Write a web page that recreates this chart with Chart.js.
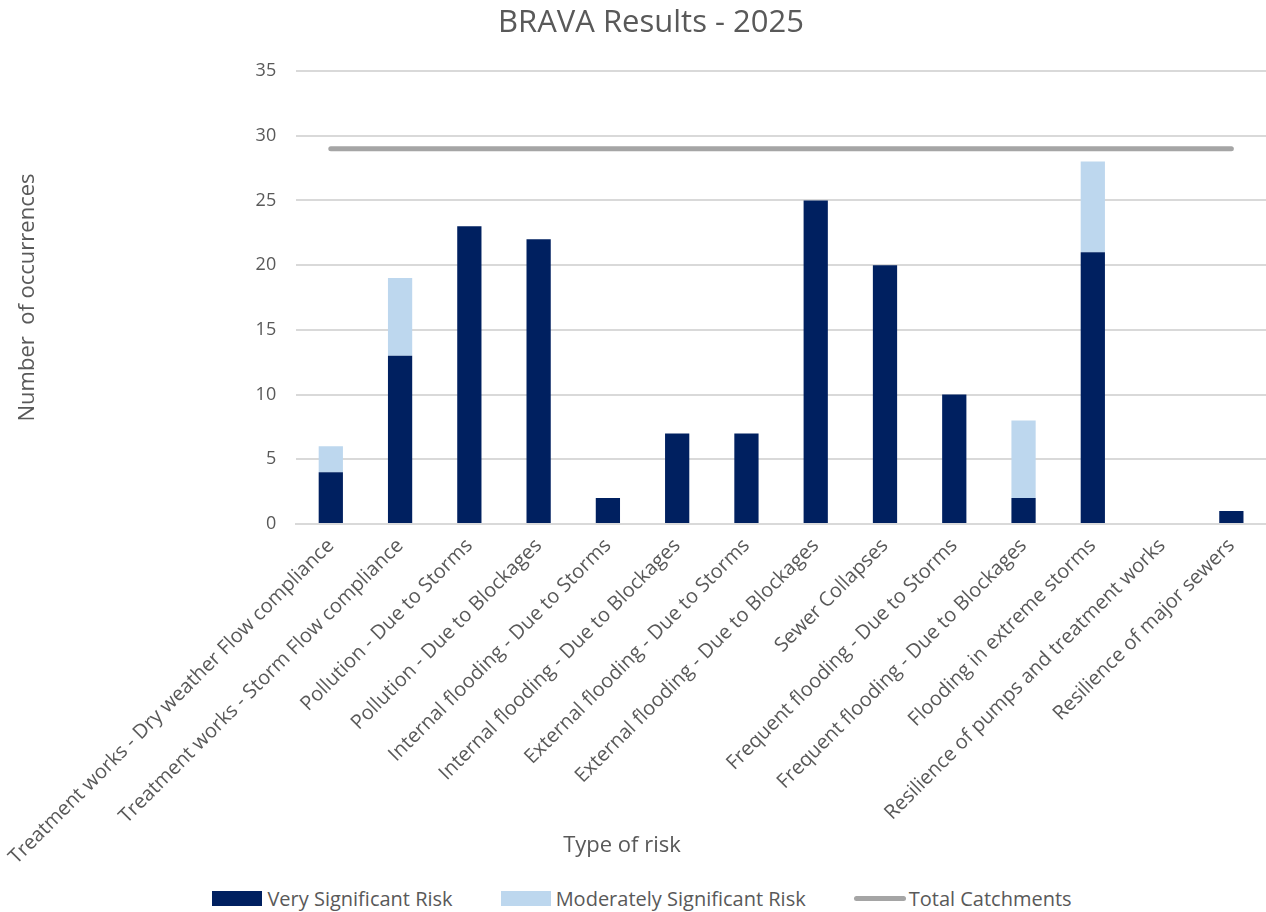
<!DOCTYPE html>
<html>
<head>
<meta charset="utf-8">
<script src="https://cdn.jsdelivr.net/npm/chart.js@4.4.1/dist/chart.umd.min.js"></script>
<style>
  html, body { margin: 0; padding: 0; background: #fff; }
  #wrap { position: relative; width: 1266px; height: 878px; }
  #legend {
    display: flex; justify-content: center; align-items: center;
    height: 40px; width: 1248px; padding-left: 18px;
    font-family: "Open Sans", sans-serif; font-size: 20px; color: #595959;
  }
  #legend .item { display: flex; align-items: center; margin: 0 24px; }
  #legend .swatch { width: 50px; height: 15px; margin-right: 5px; }
  #legend .line { width: 52px; height: 5px; border-radius: 3px; margin-right: 3px; }
</style>
</head>
<body>
<div id="wrap"><canvas id="brava"></canvas></div>
<div id="legend"></div>
<script>
const categories = [
  'Treatment works - Dry weather Flow compliance',
  'Treatment works - Storm Flow compliance',
  'Pollution - Due to Storms',
  'Pollution - Due to Blockages',
  'Internal flooding - Due to Storms',
  'Internal flooding - Due to Blockages',
  'External flooding - Due to Storms',
  'External flooding - Due to Blockages',
  'Sewer Collapses',
  'Frequent flooding - Due to Storms',
  'Frequent flooding - Due to Blockages',
  'Flooding in extreme storms',
  'Resilience of pumps and treatment works',
  'Resilience of major sewers'
];
const verySignificant = [4, 13, 23, 22, 2, 7, 7, 25, 20, 10, 2, 21, 0, 1];
const moderatelySignificant = [2, 6, 0, 0, 0, 0, 0, 0, 0, 0, 6, 7, 0, 0];
const totalCatchments = [29, 29, 29, 29, 29, 29, 29, 29, 29, 29, 29, 29, 29, 29];

const textColor = '#595959';
const fontFamily = '"Open Sans", sans-serif';

// chart title and x axis title, Excel centres them on the whole chart, not the plot
const titlesPlugin = {
  id: 'titles',
  afterDraw(chart) {
    const c = chart.ctx;
    c.save();
    c.fillStyle = textColor;
    c.textAlign = 'center';
    c.textBaseline = 'middle';
    c.font = `31px ${fontFamily}`;
    c.fillText('BRAVA Results - 2025', 651, 23);
    c.font = `22px ${fontFamily}`;
    c.fillText('Type of risk', 622, 846);
    c.restore();
  }
};

const ctx = document.getElementById('brava').getContext('2d');

const chart = new Chart(ctx, {
  data: {
    labels: categories,
    datasets: [
      {
        type: 'line',
        label: 'Total Catchments',
        data: totalCatchments,
        borderColor: '#a5a5a5',
        borderWidth: 5,
        borderCapStyle: 'round',
        pointRadius: 0,
        fill: false,
        stack: 'total',
        order: 0
      },
      {
        type: 'bar',
        label: 'Very Significant Risk',
        data: verySignificant,
        backgroundColor: '#002060',
        stack: 'risk',
        barPercentage: 0.35,
        categoryPercentage: 1,
        order: 1
      },
      {
        type: 'bar',
        label: 'Moderately Significant Risk',
        data: moderatelySignificant,
        backgroundColor: '#bdd7ee',
        stack: 'risk',
        barPercentage: 0.35,
        categoryPercentage: 1,
        order: 1
      }
    ]
  },
  options: {
    responsive: true,
    maintainAspectRatio: false,
    animation: false,
    layout: { padding: { left: 12, right: 0, top: 71, bottom: 0 } },
    scales: {
      x: {
        stacked: true,
        grid: { display: false },
        border: { color: '#d9d9d9', width: 2 },
        ticks: {
          color: textColor,
          font: { family: fontFamily, size: 20 },
          minRotation: 45,
          maxRotation: 45,
          autoSkip: false,
          padding: 2
        },
        afterFit: (scale) => { scale.height = 354; }
      },
      y: {
        stacked: true,
        min: 0,
        max: 35,
        ticks: {
          stepSize: 5,
          color: textColor,
          font: { family: fontFamily, size: 18 },
          padding: 20
        },
        grid: { color: '#d9d9d9', lineWidth: 2, drawTicks: false },
        border: { display: false },
        title: {
          display: true,
          text: 'Number  of occurrences',
          color: textColor,
          font: { family: fontFamily, size: 22 },
          padding: { top: 2, bottom: 0 }
        },
        afterFit: (scale) => { scale.width = 284; }
      }
    },
    plugins: {
      legend: { display: false },
      tooltip: { enabled: false }
    }
  },
  plugins: [titlesPlugin]
});

// html legend under the canvas
const legendEl = document.getElementById('legend');
[1, 2, 0].forEach(i => {
  const d = chart.data.datasets[i];
  const item = document.createElement('div');
  item.className = 'item';
  const mark = document.createElement('span');
  if (d.type === 'line') {
    mark.className = 'line';
    mark.style.background = d.borderColor;
  } else {
    mark.className = 'swatch';
    mark.style.background = d.backgroundColor;
  }
  const label = document.createElement('span');
  label.textContent = d.label;
  item.appendChild(mark);
  item.appendChild(label);
  legendEl.appendChild(item);
});
</script>
</body>
</html>
